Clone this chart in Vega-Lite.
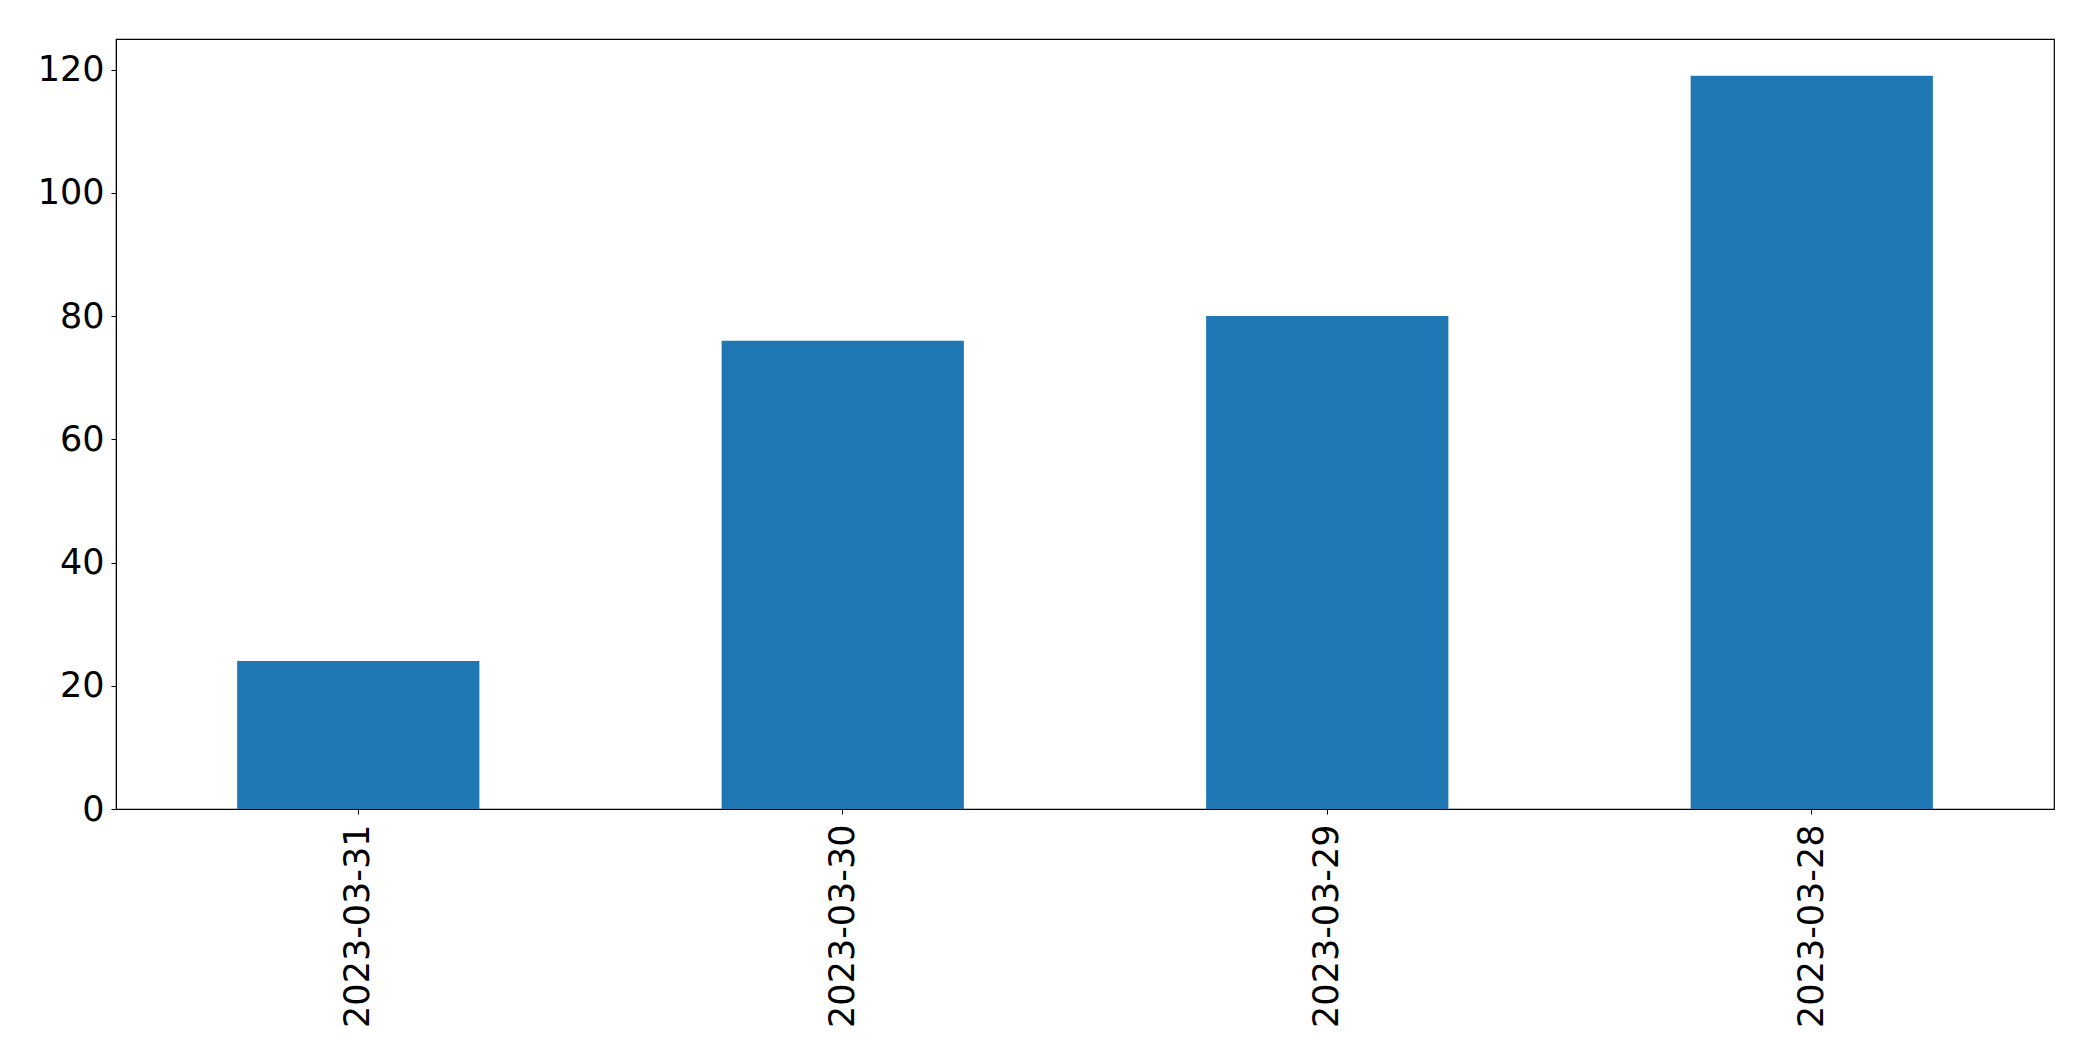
{
  "$schema": "https://vega.github.io/schema/vega-lite/v6.json",
  "autosize": {"type": "none"},
  "padding": {"left": 116, "top": 39, "right": 39, "bottom": 252},
  "width": 1938,
  "height": 770,
  "background": "white",
  "config": {
    "view": {"stroke": "black", "strokeWidth": 1.2},
    "axis": {
      "labelFont": "DejaVu Sans",
      "labelFontSize": 35,
      "labelColor": "black",
      "labelLimit": 0,
      "tickColor": "black",
      "domainColor": "black",
      "grid": false,
      "tickSize": 5,
      "title": null
    }
  },
  "data": {
    "values": [
      {"date": "2023-03-31", "count": 24},
      {"date": "2023-03-30", "count": 76},
      {"date": "2023-03-29", "count": 80},
      {"date": "2023-03-28", "count": 119}
    ]
  },
  "mark": {"type": "bar", "color": "#1f77b4"},
  "encoding": {
    "x": {
      "field": "date",
      "type": "nominal",
      "sort": null,
      "scale": {"paddingInner": 0.5, "paddingOuter": 0.25},
      "axis": {"labelAngle": -90, "labelPadding": 10, "labelAlign": "right", "labelBaseline": "middle"}
    },
    "y": {
      "field": "count",
      "type": "quantitative",
      "scale": {"domain": [0, 124.95], "nice": false},
      "axis": {"values": [0, 20, 40, 60, 80, 100, 120], "labelPadding": 7}
    }
  }
}
